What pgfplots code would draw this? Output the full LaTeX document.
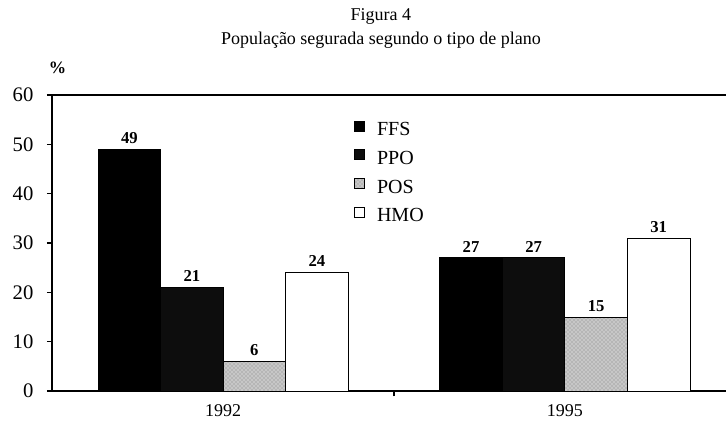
\documentclass[border=0pt,12pt]{standalone}
\usepackage{fontspec}
\setmainfont{Liberation Serif}
\usepackage{pgfplots}
\pgfplotsset{compat=1.18}
\usetikzlibrary{patterns}
\pgfplotsset{sqleg/.style={legend image code/.code={\draw[##1,line width=0.6pt] (0pt,-0.5pt) rectangle (7.5pt,7pt);}}}
\begin{document}
\begin{tikzpicture}
\useasboundingbox (-39.225pt,-26.25pt) rectangle (505.275pt,293.25pt);
\begin{axis}[
 at={(0pt,0pt)}, anchor=south west,
 scale only axis, width=505.275pt, height=222pt,
 xmin=-0.5, xmax=1.4716, ymin=0, ymax=60,
 axis x line=bottom, axis y line=left,
 axis line style={-, line width=1.2pt},
 ytick={0,10,...,60},
 tick align=outside,
 major tick length=4pt,
 tick style={line width=1pt, black},
 xtick={0.5}, xticklabels={},
 extra x ticks={0,1}, extra x tick labels={1992,1995},
 extra x tick style={major tick length=0pt, tick label style={yshift=-6pt}},
 ybar=0pt, bar width=0.183, bar shift=0pt,
 /pgf/number format/assume math mode=true,
 x tick label style={font=\fontsize{13.5}{15}\selectfont},
 y tick label style={font=\fontsize{15.5}{17}\selectfont, xshift=-6pt},
 nodes near coords,
 nodes near coords style={font=\fontsize{12.5}{15}\selectfont\bfseries},
 clip=false,
 legend style={draw=none, fill=none, at={(rel axis cs:0.4478,0.917)}, anchor=north west,
   font=\fontsize{15}{18}\selectfont, row sep=5.8pt, column sep=7pt, inner sep=0pt},
 legend cell align=left,
]
\addplot[fill=black, draw=black, line width=0.6pt, sqleg] coordinates {(-0.2745,49) (0.7255,27)};
\addplot[fill=black!95, draw=black, line width=0.6pt, sqleg] coordinates {(-0.0915,21) (0.9085,27)};
\addplot[fill=black!22, draw=black, line width=0.6pt, postaction={pattern=crosshatch dots, pattern color=black!50}, sqleg] coordinates {(0.0915,6) (1.0915,15)};
\addplot[fill=white, draw=black, line width=0.6pt, sqleg] coordinates {(0.2745,24) (1.2745,31)};
\legend{FFS,PPO,POS,HMO}
\draw[line width=1.2pt] (rel axis cs:0,1) -- (rel axis cs:1,1);
\end{axis}
\node[anchor=base, font=\fontsize{13.5}{15}\selectfont] at (246.5pt,277.5pt) {Figura 4};
\node[anchor=base, font=\fontsize{13.5}{15}\selectfont] at (246.5pt,259.5pt) {População segurada segundo o tipo de plano};
\node[font=\fontsize{13}{15}\selectfont\bfseries] at (4pt,242pt) {\%};
\end{tikzpicture}
\end{document}
